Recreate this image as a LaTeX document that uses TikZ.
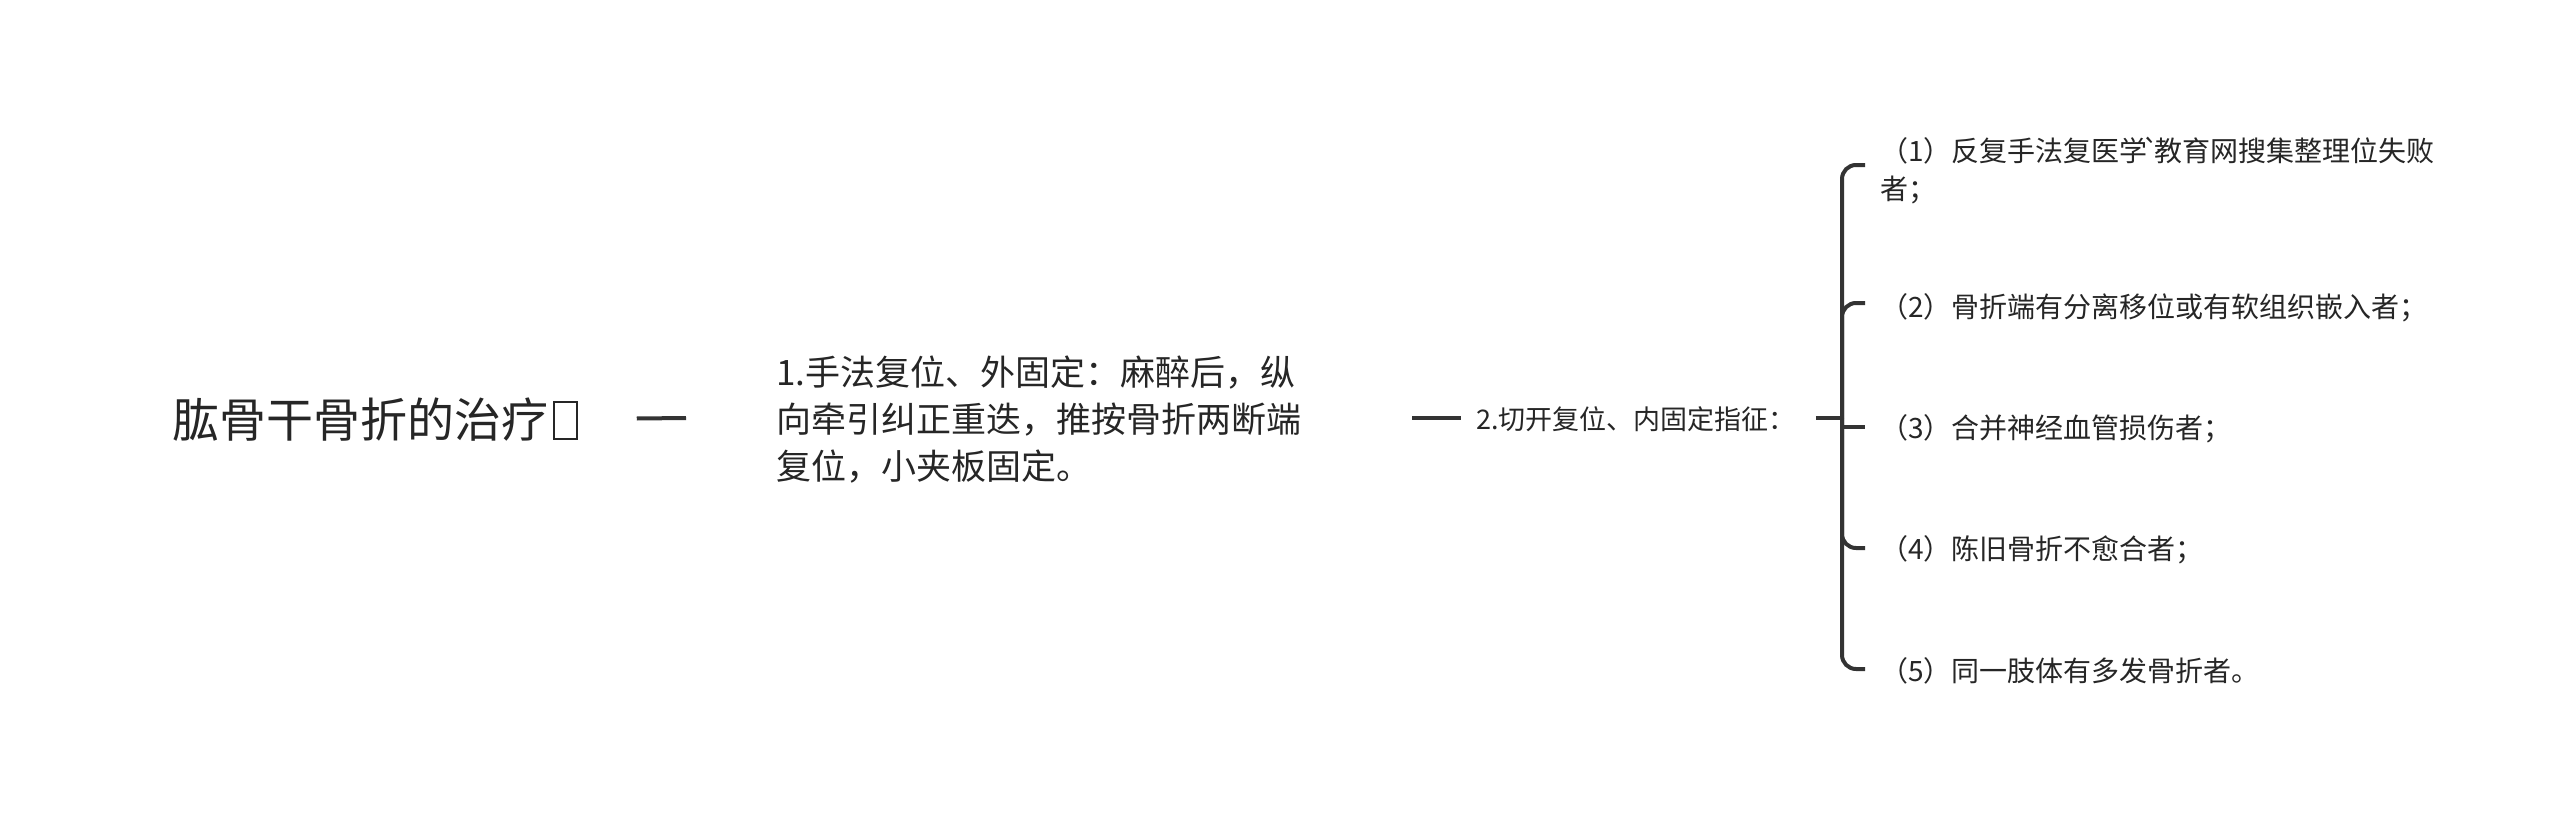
\documentclass[tikz,border=0pt]{standalone}
\usepackage{fontspec}
\newfontfamily\cjk{Noto Sans CJK SC}
\definecolor{ink}{HTML}{262626}
\definecolor{wire}{HTML}{333333}
\begin{document}
\begin{tikzpicture}[x=1pt,y=-1pt,
  txt/.style={font=\cjk, text=ink, inner sep=0pt, anchor=west, align=left},
  conn/.style={draw=wire, line width=4pt},
  brace/.style={draw=wire, line width=4pt, rounded corners=14pt}]
\useasboundingbox[fill=white] (0,0) rectangle (2560,819);
% root
\node[txt, font={\cjk\fontsize{47}{56}\selectfont}] (root) at (172,420) {肱骨干骨折的治疗};
\node[draw=ink, line width=2pt, minimum width=22.5pt, minimum height=37.5pt, inner sep=0pt] (tofu) at (565.5,420.5) {};
% level 1
\node[txt, font={\cjk\fontsize{35}{47}\selectfont}] (n1) at (776,420) {1.手法复位、外固定：麻醉后，纵\\向牵引纠正重迭，推按骨折两断端\\复位，小夹板固定。};
\node[txt, font={\cjk\fontsize{27}{33}\selectfont}] (n2) at (1476,419) {2.切开复位、内固定指征：};
% children
\node[txt, font={\cjk\fontsize{28}{38}\selectfont}] (c1) at (1880,171) {（1）反复手法复医学\kern-5pt`\kern-5pt教育网搜集整理位失败\\者；};
\node[txt, font={\cjk\fontsize{28}{38}\selectfont}] (c2) at (1880,308) {（2）骨折端有分离移位或有软组织嵌入者；};
\node[txt, font={\cjk\fontsize{28}{38}\selectfont}] (c3) at (1880,429) {（3）合并神经血管损伤者；};
\node[txt, font={\cjk\fontsize{28}{38}\selectfont}] (c4) at (1880,550) {（4）陈旧骨折不愈合者；};
\node[txt, font={\cjk\fontsize{28}{38}\selectfont}] (c5) at (1880,671) {（5）同一肢体有多发骨折者。};
\coordinate (split) at (1842,418);
% connectors
\draw[conn] ([xshift=59pt,yshift=2pt]tofu.east) -- ([xshift=-90pt,yshift=2pt]n1.west);
\draw[conn] (n1.east |- split) ++(111pt,0) -- ([xshift=-15pt]n2.west |- split);
\draw[conn] (n2.east |- split) ++(20pt,0) -- (split);
\draw[brace] (split) |- ([xshift=-15pt,yshift=6pt]c1.west);
\draw[brace] (split) |- ([xshift=-15pt,yshift=5pt]c2.west);
\draw[conn] (split) |- ([xshift=-15pt,yshift=2pt]c3.west);
\draw[brace] (split) |- ([xshift=-15pt,yshift=2pt]c4.west);
\draw[brace] (split) |- ([xshift=-15pt,yshift=2pt]c5.west);
\end{tikzpicture}
\end{document}
